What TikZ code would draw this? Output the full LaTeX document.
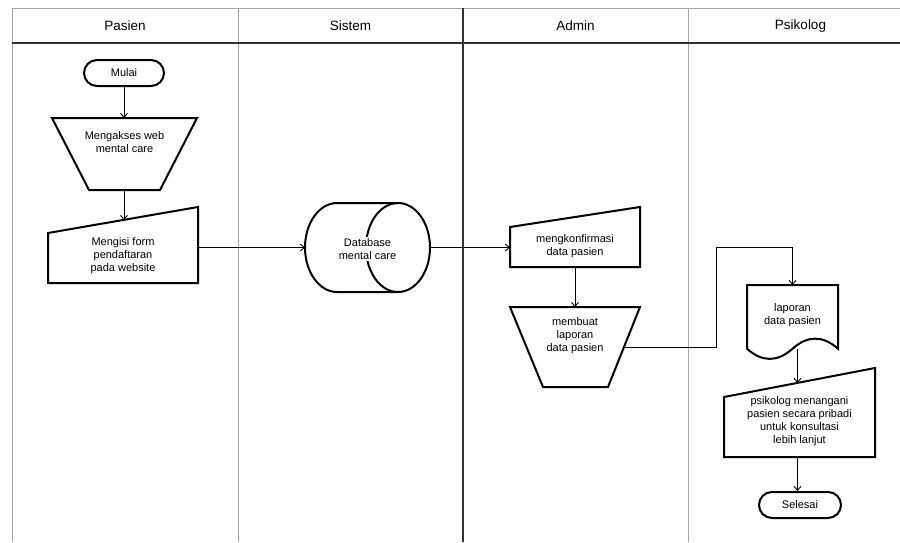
\documentclass[tikz,border=0pt]{standalone}
\usepackage{fontspec}
\setmainfont{Liberation Sans}
\usetikzlibrary{arrows.meta,shapes.misc,calc}
\begin{document}
\begin{tikzpicture}[x=1pt,y=-1pt,
  shapeline/.style={line width=2pt, line join=miter},
  conn/.style={line width=0.9pt, -{Straight Barb[length=4pt,width=7pt]}},
  lbl/.style={font=\fontsize{11}{13}\selectfont, align=center, inner sep=0pt},
  box/.style={inner sep=0pt, outer sep=0pt, draw=none},
  lane/.style={draw=black!35, line width=0.8pt},
  lanedark/.style={draw=black!80, line width=1.4pt},
  head/.style={font=\fontsize{13.5}{16}\selectfont, inner sep=0pt}
]
\useasboundingbox (0,0) rectangle (900,542);
\fill[white] (0,0) rectangle (900,542);
% swimlanes
\draw[lane] (12,542) -- (12,8) -- (905,8);
\draw[lane] (238,8) -- (238,542);
\draw[lane] (688,8) -- (688,542);
\draw[lanedark] (463,8) -- (463,542);
\draw[lanedark] (12,43) -- (905,43);
\node[head] (hpasien) at (125,26) {Pasien};
\node[head] (hsistem) at (350.5,26) {Sistem};
\node[head] (hadmin) at (575.5,26) {Admin};
\node[head] (hpsikolog) at (800.5,26) {Psikolog};

% Mulai
\node[rounded rectangle, draw, shapeline, minimum width=80, minimum height=26, inner sep=0pt,
      font=\fontsize{11}{13}\selectfont] (mulai) at (124,73) {Mulai};

% Trapezoid 1
\node[box, minimum width=145, minimum height=72] (t1) at (124.5,154) {};
\draw[shapeline] (t1.north west) -- (t1.north east) -- ($(t1.south east)+(-37,0)$)
   -- ($(t1.south west)+(37,0)$) -- cycle;
\node[lbl] (t1txt) at (124.5,142) {Mengakses web\\mental care};

% Manual input 1
\node[box, minimum width=150, minimum height=76] (m1) at (123,245) {};
\draw[shapeline] (m1.south west) -- (m1.south east) -- (m1.north east)
   -- ($(m1.north west)+(0,26)$) -- cycle;
\coordinate (m1top) at ($(m1.north)+(0,13)$);
\node[lbl] (m1txt) at (123,256) {Mengisi form\\pendaftaran\\pada website};

% Database
\node[box, minimum width=125, minimum height=89] (db) at (367.5,247.5) {};
\draw[shapeline] (337,203) -- (398,203) arc[start angle=-90, end angle=90, x radius=32, y radius=44.5]
   -- (337,292) arc[start angle=90, end angle=270, x radius=32, y radius=44.5] -- cycle;
\draw[shapeline] (398,203) arc[start angle=-90, end angle=-270, x radius=32, y radius=44.5];
\node[lbl, fill=white, inner sep=1pt] (dbtxt) at (367.5,249) {Database\\mental care};

% Manual input 2
\node[box, minimum width=130, minimum height=60] (m2) at (575,237) {};
\draw[shapeline] (m2.south west) -- (m2.south east) -- (m2.north east)
   -- ($(m2.north west)+(0,20)$) -- cycle;
\node[lbl] (m2txt) at (575,246) {mengkonfirmasi\\data pasien};

% Trapezoid 2
\node[box, minimum width=130, minimum height=80] (t2) at (575,347) {};
\draw[shapeline] (t2.north west) -- (t2.north east) -- ($(t2.south east)+(-32,0)$)
   -- ($(t2.south west)+(33,0)$) -- cycle;
\coordinate (t2r) at ($(t2.north east)!0.5!($(t2.south east)+(-32,0)$)$);
\node[lbl] (t2txt) at (575,336) {membuat\\laporan\\data pasien};

% Document
\node[box, minimum width=91, minimum height=75] (doc) at (792.5,322.5) {};
\draw[shapeline] (747,285) -- (838,285) -- (838,348.75)
   .. controls (822.83,335.25) and (807.67,335.25) .. (792.5,348.75)
   .. controls (777.33,362.25) and (762.17,362.25) .. (747,348.75) -- cycle;
\coordinate (docbot) at (792.5,348.75);
\node[lbl] (doctxt) at (792.5,315) {laporan\\data pasien};

% Manual input 3
\node[box, minimum width=151, minimum height=89] (m3) at (799.5,412.5) {};
\draw[shapeline] (m3.south west) -- (m3.south east) -- (m3.north east)
   -- ($(m3.north west)+(0,29)$) -- cycle;
\coordinate (m3top) at (797.5,383);
\node[lbl] (m3txt) at (799.5,421.5) {psikolog menangani\\pasien secara pribadi\\untuk konsultasi\\lebih lanjut};

% Selesai
\node[rounded rectangle, draw, shapeline, minimum width=82, minimum height=26, inner sep=0pt,
      font=\fontsize{11}{13}\selectfont] (selesai) at (800,505) {Selesai};

% connectors
\draw[conn] (mulai.south) -- (mulai.south |- t1.north);
\draw[conn] (t1.south -| mulai.south) -- (m1top -| mulai.south);
\draw[conn] (m1.east |- db.west) -- (db.west);
\draw[conn] (db.east) -- (m2.west |- db.east);
\draw[conn] (m2.south) -- (t2.north);
\coordinate (bend) at (716,247);
\draw[conn] (t2r) -| (bend) -| (doc.north);
\draw[conn] (m3top |- docbot) -- (m3top);
\draw[conn] (m3.south -| m3top) -- (selesai.north -| m3top);
\end{tikzpicture}
\end{document}
